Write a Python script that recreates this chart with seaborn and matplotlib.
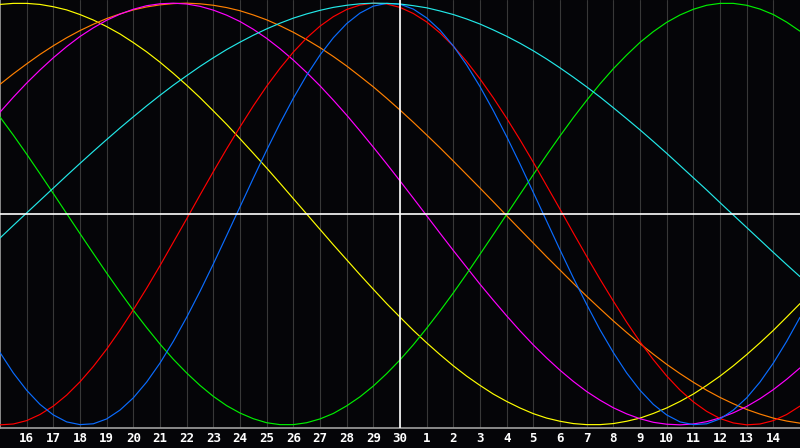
import matplotlib
matplotlib.use("Agg")
import matplotlib.pyplot as plt
import pandas as pd
import seaborn as sns

# half-day steps: 0 = the 15th of the previous month, 15 = the 30th (today), 30 = the 15th
steps = [i / 2 for i in range(61)]
tick_days = list(range(1, 30))
day_labels = ['16', '17', '18', '19', '20', '21', '22', '23', '24', '25', '26', '27', '28', '29', '30',
              '1', '2', '3', '4', '5', '6', '7', '8', '9', '10', '11', '12', '13', '14']

# values every half day (-1 .. 1)
physical = [-0.657, -0.754, -0.836, -0.903, -0.953, -0.986, -0.999, -0.995, -0.972, -0.930,
            -0.872, -0.797, -0.707, -0.604, -0.490, -0.367, -0.237, -0.102, 0.034, 0.170,
            0.303, 0.430, 0.549, 0.658, 0.754, 0.836, 0.903, 0.953, 0.986, 0.999,
            0.995, 0.972, 0.930, 0.872, 0.797, 0.707, 0.604, 0.490, 0.367, 0.237,
            0.102, -0.034, -0.170, -0.303, -0.429, -0.549, -0.657, -0.754, -0.836, -0.903,
            -0.953, -0.986, -0.999, -0.995, -0.972, -0.930, -0.872, -0.797, -0.707, -0.604, -0.490]
emotional = [-1.000, -0.996, -0.980, -0.951, -0.911, -0.859, -0.796, -0.723, -0.641, -0.551,
             -0.454, -0.352, -0.245, -0.134, -0.023, 0.090, 0.201, 0.309, 0.413, 0.513,
             0.606, 0.691, 0.768, 0.835, 0.891, 0.936, 0.970, 0.991, 1.000, 0.996,
             0.980, 0.951, 0.911, 0.859, 0.796, 0.723, 0.641, 0.551, 0.454, 0.352,
             0.245, 0.134, 0.023, -0.090, -0.201, -0.309, -0.413, -0.513, -0.606, -0.691,
             -0.768, -0.835, -0.891, -0.936, -0.970, -0.991, -1.000, -0.996, -0.980, -0.951, -0.911]
intellectual = [0.460, 0.374, 0.284, 0.191, 0.097, 0.002, -0.093, -0.187, -0.280, -0.370,
                -0.457, -0.539, -0.617, -0.689, -0.754, -0.813, -0.865, -0.909, -0.944, -0.971,
                -0.990, -0.999, -0.999, -0.990, -0.972, -0.946, -0.910, -0.867, -0.816, -0.757,
                -0.692, -0.620, -0.542, -0.460, -0.374, -0.284, -0.191, -0.097, -0.002, 0.093,
                0.187, 0.280, 0.370, 0.457, 0.539, 0.617, 0.689, 0.754, 0.814, 0.865,
                0.909, 0.944, 0.971, 0.990, 0.999, 0.999, 0.990, 0.972, 0.946, 0.910, 0.867]
intuitive = [0.483, 0.554, 0.621, 0.683, 0.741, 0.794, 0.842, 0.883, 0.919, 0.948,
             0.971, 0.988, 0.997, 1.000, 0.996, 0.985, 0.967, 0.943, 0.913, 0.876,
             0.833, 0.784, 0.730, 0.671, 0.608, 0.540, 0.469, 0.394, 0.317, 0.238,
             0.157, 0.075, -0.008, -0.091, -0.173, -0.253, -0.333, -0.409, -0.483, -0.554,
             -0.621, -0.683, -0.741, -0.794, -0.842, -0.883, -0.919, -0.948, -0.971, -0.988,
             -0.997, -1.000, -0.996, -0.985, -0.967, -0.943, -0.913, -0.876, -0.833, -0.784, -0.730]
aesthetic = [0.994, 0.999, 0.999, 0.994, 0.983, 0.968, 0.946, 0.920, 0.889, 0.854,
             0.813, 0.769, 0.720, 0.667, 0.611, 0.552, 0.489, 0.425, 0.357, 0.288,
             0.218, 0.146, 0.073, 0.000, -0.073, -0.146, -0.217, -0.288, -0.357, -0.425,
             -0.489, -0.552, -0.611, -0.667, -0.720, -0.769, -0.813, -0.854, -0.889, -0.920,
             -0.947, -0.968, -0.983, -0.994, -0.999, -0.999, -0.994, -0.983, -0.968, -0.946,
             -0.920, -0.889, -0.854, -0.813, -0.769, -0.720, -0.667, -0.611, -0.552, -0.489, -0.425]
awareness = [0.615, 0.665, 0.712, 0.757, 0.798, 0.836, 0.870, 0.900, 0.927, 0.949,
             0.968, 0.982, 0.992, 0.998, 1.000, 0.997, 0.990, 0.979, 0.964, 0.944,
             0.921, 0.893, 0.862, 0.827, 0.789, 0.747, 0.702, 0.653, 0.603, 0.549,
             0.493, 0.435, 0.375, 0.314, 0.251, 0.187, 0.123, 0.058, -0.008, -0.073,
             -0.138, -0.203, -0.266, -0.329, -0.390, -0.449, -0.507, -0.562, -0.615, -0.665,
             -0.713, -0.757, -0.798, -0.836, -0.870, -0.900, -0.927, -0.949, -0.968, -0.982, -0.992]
spiritual = [-0.114, -0.054, 0.005, 0.064, 0.123, 0.182, 0.240, 0.297, 0.353, 0.408,
             0.461, 0.513, 0.563, 0.611, 0.656, 0.700, 0.741, 0.780, 0.815, 0.848,
             0.878, 0.905, 0.929, 0.949, 0.966, 0.980, 0.990, 0.997, 1.000, 0.999,
             0.996, 0.988, 0.978, 0.963, 0.946, 0.925, 0.901, 0.873, 0.843, 0.810,
             0.774, 0.735, 0.693, 0.649, 0.603, 0.555, 0.504, 0.452, 0.399, 0.344,
             0.288, 0.230, 0.172, 0.114, 0.054, -0.005, -0.064, -0.123, -0.182, -0.240, -0.297]

series = [
  ('aesthetic', aesthetic, '#ffff00'),
  ('awareness', awareness, '#ff8000'),
  ('intuitive', intuitive, '#ff00ff'),
  ('intellectual', intellectual, '#00ee00'),
  ('emotional', emotional, '#ff0000'),
  ('physical', physical, '#0a6cff'),
  ('spiritual', spiritual, '#22e8e8'),
]

bg = '#050508'
sns.set_style('dark', {'axes.facecolor': bg, 'figure.facecolor': bg})

fig = plt.figure(figsize=(8, 4.48), dpi=100)
ax = fig.add_axes([0, 20 / 448, 1, 428 / 448])

# day grid
for d in tick_days:
  ax.axvline(d, color='#383838', lw=0.8, zorder=1)

for name, vals, col in series:
  df = pd.DataFrame({'day': steps, 'value': vals})
  sns.lineplot(data=df, x='day', y='value', color=col, lw=0.85, ax=ax, zorder=3)

ax.axhline(0, color='white', lw=1.2, zorder=4)
ax.axvline(15, color='white', lw=1.2, zorder=4)

ax.set_xlim(0, 30)
ax.set_ylim(-1.015, 1.015)
ax.set_xticks(tick_days)
ax.set_xticklabels(day_labels, color='white', fontsize=9, fontweight='bold',
                   family=['DejaVu Sans Mono'])
ax.set_yticks([])
ax.tick_params(axis='x', length=0, pad=3)
ax.set_xlabel('')
ax.set_ylabel('')

for s in ['top', 'right']:
  ax.spines[s].set_visible(False)
ax.spines['bottom'].set_color('#a0a0a0')
ax.spines['left'].set_color('#a0a0a0')
ax.spines['bottom'].set_linewidth(1.2)
ax.spines['left'].set_linewidth(1.2)

fig.savefig('out.png', facecolor=bg)
